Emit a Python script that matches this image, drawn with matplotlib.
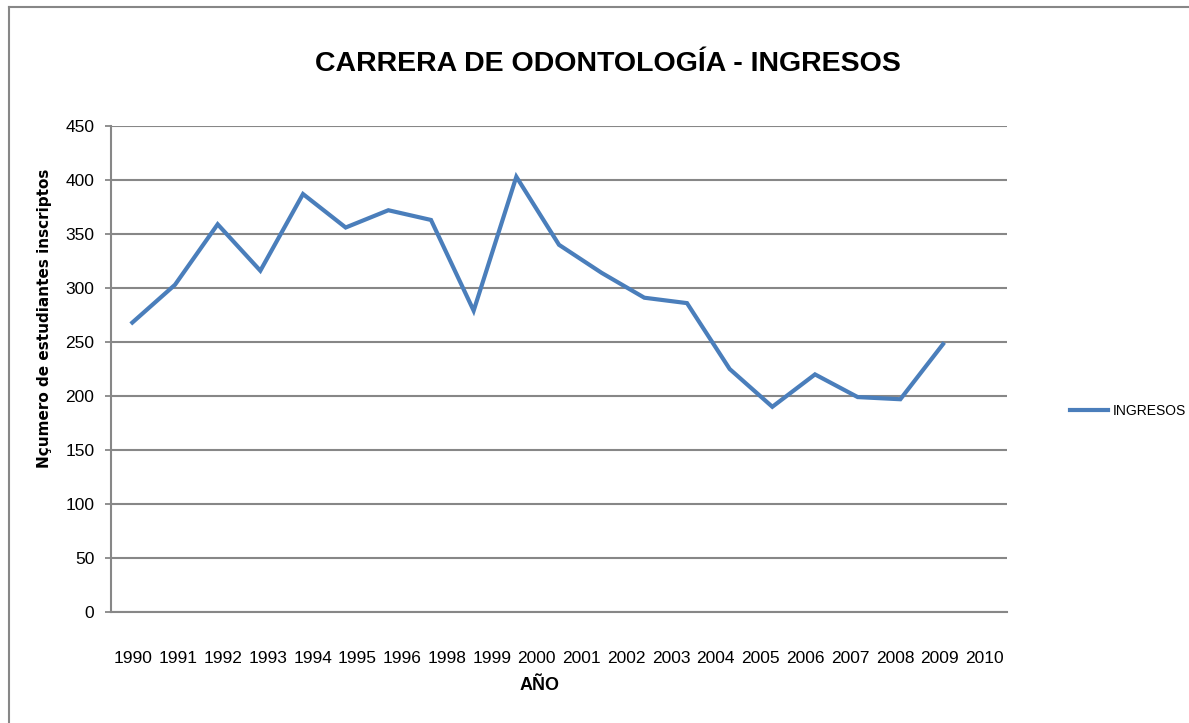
import matplotlib.pyplot as plt
from matplotlib.lines import Line2D

# Ingresos (students enrolled) per year
years = ['1990', '1991', '1992', '1993', '1994', '1995', '1996', '1998', '1999', '2000',
         '2001', '2002', '2003', '2004', '2005', '2006', '2007', '2008', '2009', '2010']
ingresos = [268, 303, 359, 316, 387, 356, 372, 363, 279, 403,
            340, 314, 291, 286, 225, 190, 220, 199, 197, 248]
y_ticks = [0, 50, 100, 150, 200, 250, 300, 350, 400, 450]

narrow = ['Liberation Sans', 'DejaVu Sans']
W, H = 1189, 723
fig = plt.figure(figsize=(W / 100, H / 100), dpi=100)
ax = fig.add_axes([111 / W, 1 - 612 / H, (1007 - 111) / W, (612 - 126) / H])

grey = '#878787'
# the line is spread over 21 category slots while the labels use 20
xs = list(range(len(ingresos)))
ax.plot(xs, ingresos, color='#4A7EBB', linewidth=3, solid_joinstyle='miter', label='INGRESOS')
ax.set_xlim(-0.5, len(ingresos) + 0.5)
ax.set_ylim(0, 450)
ax.set_yticks(y_ticks)
ax.set_yticklabels([str(v) for v in y_ticks], family=narrow, fontsize=12.5)
ax.yaxis.grid(True, color=grey, linewidth=1.5)
ax.set_axisbelow(True)
ax.tick_params(axis='y', direction='out', length=4, width=1.3, color=grey, pad=8)
ax.set_xticks([])
for s in ['top', 'right']:
    ax.spines[s].set_visible(False)
for s in ['left', 'bottom']:
    ax.spines[s].set_color(grey)
    ax.spines[s].set_linewidth(1.5)

n = len(years)
sec = ax.secondary_xaxis('bottom', functions=(lambda x: (x + 0.5) * n / (n + 1) - 0.5,
                                              lambda u: (u + 0.5) * (n + 1) / n - 0.5))
sec.set_xticks(range(n))
sec.set_xticklabels(years, family=narrow, fontsize=12.5)
sec.tick_params(length=0, pad=28)
sec.spines['bottom'].set_visible(False)

fig.text(608 / W, 1 - 64 / H, 'CARRERA DE ODONTOLOGÍA - INGRESOS', family=narrow,
         fontsize=20.5, fontweight='bold', ha='center', va='center')
fig.text(540 / W, 1 - 686 / H, 'AÑO', family=narrow, fontsize=13, fontweight='bold',
         ha='center', va='center')
fig.text(45 / W, 1 - 318 / H, 'Nçumero de estudiantes inscriptos', fontsize=11,
         fontweight='bold', rotation=90, ha='center', va='center')

leg = fig.legend(loc='center left', bbox_to_anchor=(1070 / W, 1 - 411 / H), frameon=False,
                 prop={'family': narrow, 'size': 10}, handlelength=2.7, handletextpad=0.35,
                 borderaxespad=0, borderpad=0)

# outer chart frame
fig.add_artist(Line2D([9 / W, 9 / W], [0, 1 - 7 / H], color=grey, linewidth=1.5))
fig.add_artist(Line2D([9 / W, 1], [1 - 7 / H, 1 - 7 / H], color=grey, linewidth=1.5))

fig.savefig('out.png', dpi=100)
